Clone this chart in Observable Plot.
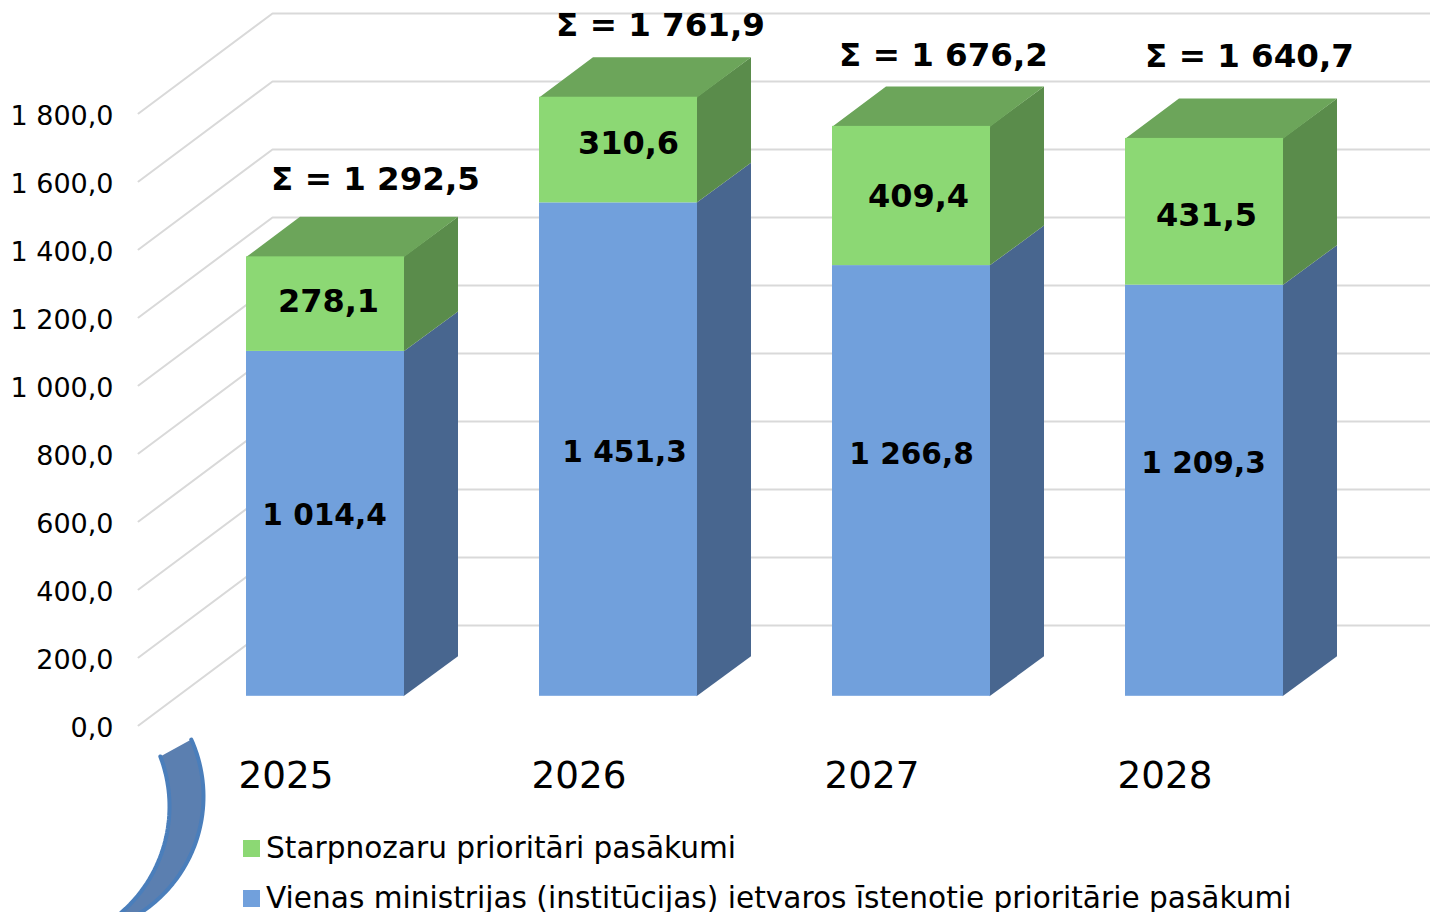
<!DOCTYPE html>
<html>
<head>
<meta charset="utf-8">
<script src="https://cdn.jsdelivr.net/npm/d3@7"></script>
<script src="https://cdn.jsdelivr.net/npm/@observablehq/plot@0.6"></script>
<style>
html,body{margin:0;padding:0;background:#fff;width:1430px;height:912px;overflow:hidden}
#chart{position:relative;width:1430px;height:912px;font-family:"DejaVu Sans",sans-serif;overflow:hidden}
#chart svg{display:block;position:absolute;left:0;top:0}
#legend{position:absolute;left:243px;top:823px;font-size:29.6px;color:#000;white-space:nowrap}
#legend div{display:flex;align-items:center;height:50px}
#legend i{display:inline-block;width:17px;height:17px;margin-right:6px}
</style>
</head>
<body>
<div id="chart"><div id="legend"></div></div>
<script>
// ---- data
const years = ["2025", "2026", "2027", "2028"];
const ministry = [1014.4, 1451.3, 1266.8, 1209.3];
const crossSector = [278.1, 310.6, 409.4, 431.5];
const totals = [1292.5, 1761.9, 1676.2, 1640.7];
const yTicks = [0, 200, 400, 600, 800, 1000, 1200, 1400, 1600, 1800];
const seriesNames = ["Starpnozaru prioritāri pasākumi", "Vienas ministrijas (institūcijas) ietvaros īstenotie prioritārie pasākumi"];

// ---- label placement (x in chart units, y on the value axis)
const ministryLabelX = [324, 624, 911, 1203];
const ministryLabelY = [618, 804, 798, 772];
const crossLabelX = [328, 628, 918, 1206];
const crossLabelY = [1246, 1711, 1556, 1500];
const totalLabelX = [375, 660, 943, 1249];
const totalLabelY = [1607, 2060, 1970, 1968];
const yearLabelX = [238, 531, 824, 1117];
const yearLabelY = -150;

// ---- colours
const blueFront = "#71a0dc", blueSide = "#48668f";
const greenFront = "#8cd874", greenSide = "#5a8c4b", greenTop = "#6ca55a";
const gridColor = "#d9d9d9";

// ---- projection constants
const unitsPerPx = 1 / 0.34;
const wallDX = 134, wallDV = 100 * unitsPerPx;
const barBaseV = 29.2 * unitsPerPx;
const barDX = 53.5, barDV = 40 * unitsPerPx;
const barLeft0 = 246, barStep = 293, barWidth = 158;

const fmt = d3.formatLocale({decimal: ",", thousands: " ", grouping: [3], currency: ["", ""]}).format(",.1f");

const bars = years.map((year, i) => {
  const x1 = barLeft0 + barStep * i, x2 = x1 + barWidth;
  const v0 = barBaseV, v1 = v0 + ministry[i], v2 = v1 + crossSector[i];
  return {year, x1, x2, v0, v1, v2};
});

const gridPts = yTicks.flatMap(t => [
  {t, x: 138, v: t},
  {t, x: 138 + wallDX, v: t + wallDV},
  {t, x: 1430, v: t + wallDV}
]);

const faces = bars.flatMap(b => {
  const side = (id, fill, a, c) => [
    [b.x2 - 1, a], [b.x2 + barDX, a + barDV], [b.x2 + barDX, c + barDV], [b.x2 - 1, c]
  ].map(([x, v]) => ({id: b.year + id, fill, x, v}));
  const top = [
    [b.x1, b.v2 - 3], [b.x1, b.v2], [b.x1 + barDX, b.v2 + barDV], [b.x2 + barDX, b.v2 + barDV], [b.x2, b.v2], [b.x2, b.v2 - 3]
  ].map(([x, v]) => ({id: b.year + "t", fill: greenTop, x, v}));
  return [...side("s1", blueSide, b.v0, b.v1), ...side("s2", greenSide, b.v1, b.v2), ...top];
});

// decorative crescent: a band between two circular arcs
const toV = py => (725 - py) * unitsPerPx;
const arc = (cx, cy, r, y0, y1, n) => d3.range(n + 1).map(k => {
  const py = y0 + (y1 - y0) * k / n;
  return {x: cx + Math.sqrt(r * r - (py - cy) * (py - cy)), v: toV(py)};
});
const ornament = [...arc(64, 796, 139, 739, 925, 40), ...arc(28, 806, 141, 925, 756, 40)];

const labelMark = (text, xs, ys, opts) => Plot.text(text, {
  x: (d, i) => xs[i], y: (d, i) => ys[i], text: d => d, fill: "#000", ...opts
});

const chart = Plot.plot({
  width: 1430, height: 912,
  marginLeft: 120, marginRight: 0, marginTop: 0, marginBottom: 0,
  style: {fontFamily: '"DejaVu Sans", sans-serif', background: "transparent", overflow: "visible"},
  x: {type: "linear", domain: [120, 1430], axis: null},
  y: {type: "linear", domain: [-187 * unitsPerPx, 725 * unitsPerPx], label: null},
  marks: [
    Plot.line(gridPts, {x: "x", y: "v", z: "t", stroke: gridColor, strokeWidth: 2, curve: "linear"}),
    Plot.axisY({ticks: yTicks, tickSize: 0, tickPadding: 7, tickFormat: fmt, fontSize: 27, label: null, anchor: "left", fill: "#000", dy: 3}),
    Plot.line(ornament, {x: "x", y: "v", fill: "#5b7fb0", stroke: "#4a7ebb", strokeWidth: 4, curve: "linear"}),
    Plot.line(faces, {x: "x", y: "v", z: "id", fill: "fill", stroke: "none", curve: "linear"}),
    Plot.rect(bars, {x1: "x1", x2: "x2", y1: "v0", y2: "v1", fill: blueFront}),
    Plot.rect(bars, {x1: "x1", x2: "x2", y1: "v1", y2: "v2", fill: greenFront}),
    labelMark(ministry.map(fmt), ministryLabelX, ministryLabelY, {fontSize: 29.6, fontWeight: "bold"}),
    labelMark(crossSector.map(fmt), crossLabelX, crossLabelY, {fontSize: 32, fontWeight: "bold"}),
    labelMark(totals.map(t => "Σ = " + fmt(t)), totalLabelX, totalLabelY, {fontSize: 32.5, fontWeight: "bold"}),
    Plot.text(years, {x: (d, i) => yearLabelX[i], y: () => yearLabelY, text: d => d, textAnchor: "start", fontSize: 37.3, fill: "#000"})
  ]
});
document.getElementById("chart").prepend(chart);

const legend = document.getElementById("legend");
[greenFront, blueFront].forEach((c, i) => {
  const row = document.createElement("div");
  const sw = document.createElement("i");
  sw.style.background = c;
  row.append(sw, document.createTextNode(seriesNames[i]));
  legend.append(row);
});
</script>
</body>
</html>
